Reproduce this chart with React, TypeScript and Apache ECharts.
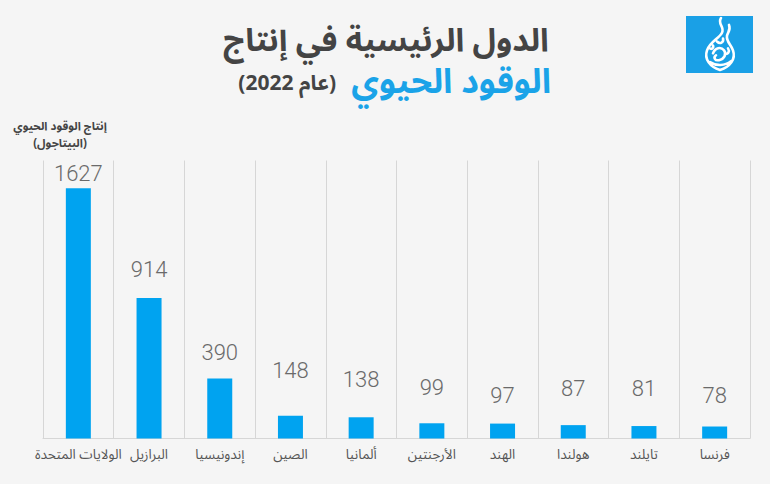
import React, { useEffect, useRef } from "react";
import * as echarts from "echarts";

const categories = [
  "الولايات المتحدة",
  "البرازيل",
  "إندونيسيا",
  "الصين",
  "ألمانيا",
  "الأرجنتين",
  "الهند",
  "هولندا",
  "تايلند",
  "فرنسا",
];
const values = [1627, 914, 390, 148, 138, 99, 97, 87, 81, 78];
// gap (px) between each bar's top and its value label, as in the reference layout
const labelGaps = [4, 17, 15, 34, 27, 25, 17, 26, 27, 20];
const titleLine1 = "الدول الرئيسية في إنتاج";
const titleBlue = "الوقود الحيوي";
const titleYear = "(عام 2022)";
const yName1 = "إنتاج الوقود الحيوي";
const yName2 = "(البيتاجول)";

const ARABIC = "'Noto Sans Arabic', 'DejaVu Sans', 'Noto Sans', sans-serif";

const logoPath =
  "M20 0 C16 6 24 9 21 15 C18 21 9 24 6 33 C3 42 9 50 19 53 C29 50 35 42 32 33 C30 27 25 24 26 18 C27 14 30 12 28 7 " +
  "M12 36 C14 30 20 29 23 33 C26 37 23 42 18 43 C14 44 12 40 15 38 " +
  "M16 24 C19 27 23 25 22 21 " +
  "M9 45 C15 49 24 49 30 44 " +
  "M24 36 C27 38 29 34 27 31 " +
  "M8 30 C10 33 13 31 12 28";

echarts.graphic.registerShape("logo", (echarts.graphic as any).extendPath(logoPath, {}));

export default function App() {
  const ref = useRef<HTMLDivElement>(null);
  useEffect(() => {
    if (!ref.current) return;
    const chart = echarts.init(ref.current, undefined, { renderer: "svg" });
    chart.setOption({
      animation: false,
      backgroundColor: "#f5f5f5",
      grid: { left: 43, right: 20, top: 160.5, bottom: 45.5 },
      xAxis: {
        type: "category",
        data: categories,
        axisLine: { show: true, lineStyle: { color: "#d6d6d6", width: 1 } },
        axisTick: { show: false },
        splitLine: { show: true, interval: 0, lineStyle: { color: "#d6d6d6", width: 1 } },
        axisLabel: {
          interval: 0,
          color: "#555",
          fontSize: 13.5,
          fontFamily: ARABIC,
          margin: 9,
        },
      },
      yAxis: {
        type: "value",
        min: 0,
        max: 1808,
        show: false,
        splitLine: { show: false },
      },
      series: [
        {
          type: "bar",
          data: values.map((v, i) => ({ value: v, label: { distance: labelGaps[i] } })),
          barWidth: 25,
          itemStyle: { color: "#00a3f0" },
          label: {
            show: true,
            position: "top",
            color: "#6a6a6a",
            fontSize: 22,
            fontFamily: "Roboto",
            fontWeight: 300,
          },
        },
      ],
      graphic: [
        {
          type: "text",
          x: 386,
          y: 41,
          style: {
            text: titleLine1,
            fill: "#444",
            font: `bold 32px ${ARABIC}`,
            lineHeight: 28,
            textAlign: "center",
            textVerticalAlign: "middle",
          },
        },
        {
          type: "text",
          x: 551,
          y: 82,
          style: {
            text: titleBlue,
            fill: "#1aa3e8",
            font: `bold 34px ${ARABIC}`,
            lineHeight: 28,
            textAlign: "right",
            textVerticalAlign: "middle",
          },
        },
        {
          type: "text",
          x: 336,
          y: 83,
          style: {
            text: titleYear,
            fill: "#444",
            font: `bold 21px ${ARABIC}`,
            textAlign: "right",
            textVerticalAlign: "middle",
          },
        },
        {
          type: "text",
          x: 60,
          y: 134,
          style: {
            text: yName1 + "\n" + yName2,
            fill: "#444",
            font: `bold 11.5px ${ARABIC}`,
            lineHeight: 17,
            textAlign: "center",
            textVerticalAlign: "middle",
          },
        },
        {
          type: "rect",
          shape: { x: 686, y: 16, width: 67, height: 57 },
          style: { fill: "#1aa0e6" },
        },
        {
          type: "logo",
          x: 701,
          y: 18,
          scaleX: 1,
          scaleY: 0.98,
          style: { fill: "none", stroke: "#ffffff", lineWidth: 2.6, lineCap: "round" },
        },
      ],
    });
    return () => chart.dispose();
  }, []);
  return <div ref={ref} style={{ width: 770, height: 484, position: "absolute", left: 0, top: 0 }} />;
}
